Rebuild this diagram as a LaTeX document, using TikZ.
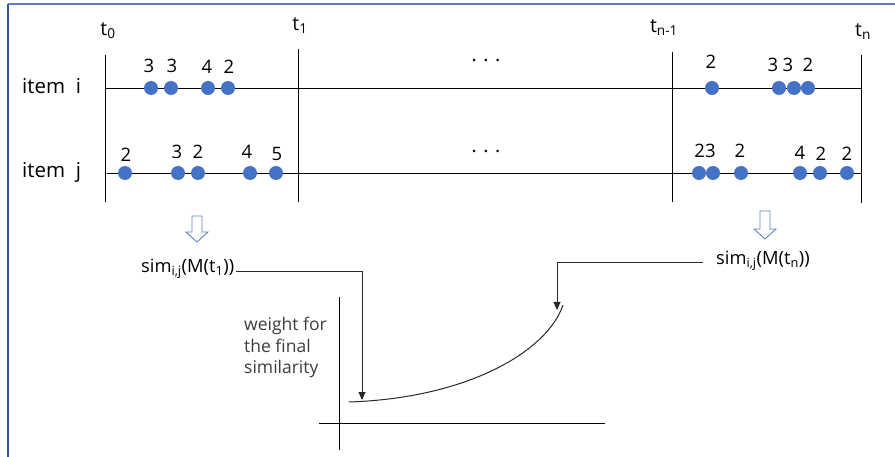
\documentclass[tikz,border=0pt]{standalone}
\usepackage{fontspec}
\setmainfont{Open Sans}
\usetikzlibrary{arrows.meta}
\definecolor{dotblue}{RGB}{68,114,196}
\definecolor{hollowblue}{RGB}{100,130,190}
\definecolor{frameL}{RGB}{47,82,160}
\definecolor{frameT}{RGB}{95,125,190}
\definecolor{linegray}{RGB}{40,40,40}
\definecolor{textgray}{RGB}{60,60,60}
\tikzset{
  ev/.style={circle,fill=dotblue,inner sep=0pt,minimum size=14pt},
  num/.style={font=\fontsize{18.5}{20}\selectfont,inner sep=0pt},
  tlab/.style={font=\fontsize{19.5}{21}\selectfont,inner sep=0pt},
  itemlab/.style={font=\fontsize{20.5}{22}\selectfont,inner sep=0pt,anchor=west},
  simlab/.style={font=\fontsize{18.3}{20}\selectfont,inner sep=0pt},
  small/.style={font=\fontsize{17.5}{21.5}\selectfont,text=textgray,inner sep=0pt,align=left,anchor=north west},
  axis/.style={line width=0.9pt,black},
  conn/.style={line width=0.9pt,linegray,-{Triangle[width=7pt,length=8pt]}},
  hollow/.style={draw=hollowblue,line width=0.9pt,fill=white,line join=miter},
}
\begin{document}
\begin{tikzpicture}[x=1pt,y=-1pt]
\useasboundingbox (0,0) rectangle (895,457);
% frame
\draw[frameL,line width=2pt] (8,4) -- (8,457);
\draw[frameT,line width=1.6pt] (8,4) -- (895,4);
% time labels
\node[tlab] (t0) at (108,31) {t\textsubscript{0}};
\node[tlab] (t1) at (300,26) {t\textsubscript{1}};
\node[tlab] (tn1) at (664,28) {t\textsubscript{n-1}};
\node[tlab] (tn) at (863,32) {t\textsubscript{n}};
% vertical lines
\coordinate (v0a) at (105,55); \coordinate (v0b) at (105,202);
\coordinate (v1a) at (298,49); \coordinate (v1b) at (298,202);
\coordinate (v2a) at (672,52); \coordinate (v2b) at (672,202);
\coordinate (v3a) at (861,55); \coordinate (v3b) at (861,203);
\draw[axis] (v0a) -- (v0b);
\draw[axis] (v1a) -- (v1b);
\draw[axis] (v2a) -- (v2b);
\draw[axis] (v3a) -- (v3b);
% item lines
\coordinate (ia) at (105,88); \coordinate (ib) at (861,88);
\coordinate (ja) at (107,173); \coordinate (jb) at (862,173);
\draw[axis] (ia) -- (ib);
\draw[axis] (ja) -- (jb);
\node[itemlab] (itemi) at (22,86) {item\ \ i};
\node[itemlab] (itemj) at (22,172) {item\ \ j};
% dots
\node[tlab] (dotsi) at (486,60) {.\,\,.\,\,.};
\node[tlab] (dotsj) at (486,151) {.\,\,.\,\,.};
% item i events
\foreach \x [count=\k] in {151,171,208,228,712,779,794,808}{
  \node[ev] (ei\k) at (\x,88) {};
}
\node[num] (li1) at (149,66) {3};
\node[num] (li2) at (172,66) {3};
\node[num] (li3) at (207,67) {4};
\node[num] (li4) at (229,67) {2};
\node[num] (li5) at (711,62) {2};
\node[num] (li6) at (773,65) {3};
\node[num] (li7) at (788,65) {3};
\node[num] (li8) at (808,65) {2};
% item j events
\foreach \x [count=\k] in {125,178,198,250,276,699,713,741,800,820,847}{
  \node[ev] (ej\k) at (\x,173) {};
}
\node[num] (lj1) at (126,155) {2};
\node[num] (lj2) at (177,152) {3};
\node[num] (lj3) at (198,152) {2};
\node[num] (lj4) at (247,152) {4};
\node[num] (lj5) at (277,154) {5};
\node[num] (lj6) at (705,151) {23};
\node[num] (lj7) at (740,151) {2};
\node[num] (lj8) at (800,153) {4};
\node[num] (lj9) at (821,154) {2};
\node[num] (lj10) at (847,154) {2};
% hollow arrows
\draw[hollow] (192,216) -- (202,216) -- (202,232) -- (208,232) -- (197,242) -- (186,232) -- (192,232) -- cycle;
\draw[hollow] (760,211) -- (770,211) -- (770,229) -- (776,229) -- (765,239) -- (754,229) -- (760,229) -- cycle;
% sim labels
\node[simlab,anchor=west] (sim1) at (141,269) {sim\textsubscript{i,j}(M(t\textsubscript{1}))};
\node[simlab,anchor=west] (simn) at (716,261) {sim\textsubscript{i,j}(M(t\textsubscript{n}))};
% graph axes
\coordinate (ya) at (339,297); \coordinate (yb) at (339,450);
\coordinate (xa) at (319,423); \coordinate (xb) at (605,423);
\draw[axis] (ya) -- (yb);
\draw[axis] (xa) -- (xb);
\node[small] (wlab) at (244,317) {weight for\\the final\\similarity};
% curve
\coordinate (c0) at (349,402);
\coordinate (c1) at (563,305);
\draw[line width=1pt,linegray] (c0) .. controls (470,398) and (548,350) .. (c1);
% connectors
\coordinate (k1) at (362,271);
\coordinate (k2) at (557,262);
\draw[conn] ([xshift=2pt]sim1.east |- k1) -- (k1) -- (362,400);
\draw[conn] ([xshift=-13pt]simn.west |- k2) -- (k2) -- (557,310);
\end{tikzpicture}
\end{document}
